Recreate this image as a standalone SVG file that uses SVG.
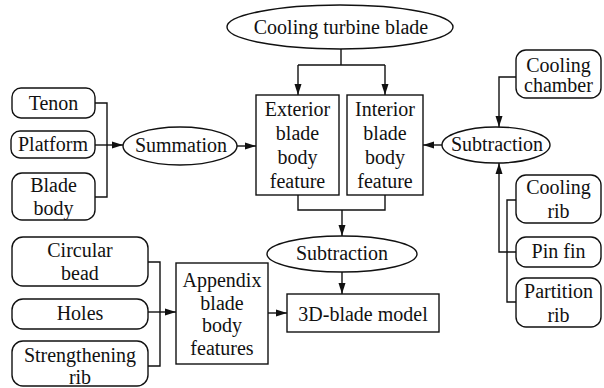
<svg xmlns="http://www.w3.org/2000/svg" width="604" height="388" viewBox="0 0 604 388">
<style>
.s{fill:#fff;stroke:#111;stroke-width:1.4}
.c{fill:none;stroke:#111;stroke-width:1.4}
.t text{font-size:20px;fill:#111;text-anchor:middle}
</style>
<defs>
<marker id="a" markerUnits="userSpaceOnUse" markerWidth="11" markerHeight="8" refX="11" refY="4" orient="auto">
<path d="M0,0.5 L11,4 L0,7.5 z" fill="#111"/>
</marker>
</defs>
<rect width="604" height="388" fill="#fff"/>
<g id="connectors">
<path class="c" d="M341,49 V65 M298,65 H385"/>
<path class="c" d="M298,65 V95" marker-end="url(#a)"/>
<path class="c" d="M385,65 V95" marker-end="url(#a)"/>
<path class="c" d="M95,103 H107 V197 H95"/>
<path class="c" d="M95,145 H123" marker-end="url(#a)"/>
<path class="c" d="M237,146 H256" marker-end="url(#a)"/>
<path class="c" d="M516,77 H499 V127" marker-end="url(#a)"/>
<path class="c" d="M516,252 H499 V163" marker-end="url(#a)"/>
<path class="c" d="M516,200 H507 V302 H516"/>
<path class="c" d="M442,145 H423" marker-end="url(#a)"/>
<path class="c" d="M298,195 V210 H385 V195"/>
<path class="c" d="M342,210 V236" marker-end="url(#a)"/>
<path class="c" d="M342,272 V294" marker-end="url(#a)"/>
<path class="c" d="M148,262 H160 V366 H148"/>
<path class="c" d="M148,312 H176" marker-end="url(#a)"/>
<path class="c" d="M268,313 H287" marker-end="url(#a)"/>
</g>
<g class="t" font-family="Liberation Serif, Times New Roman, Times, serif">
<g id="cooling-turbine-blade">
<ellipse class="s" cx="340" cy="27" rx="113" ry="22"/>
<text x="341" y="34">Cooling turbine blade</text>
</g>
<g id="exterior">
<rect class="s" x="256" y="95" width="83" height="100"/>
<text x="297.5" y="116">Exterior</text>
<text x="297.5" y="140">blade</text>
<text x="297.5" y="164">body</text>
<text x="297.5" y="188">feature</text>
</g>
<g id="interior">
<rect class="s" x="347" y="95" width="76" height="100"/>
<text x="385" y="116">Interior</text>
<text x="385" y="140">blade</text>
<text x="385" y="164">body</text>
<text x="385" y="188">feature</text>
</g>
<g id="tenon">
<rect class="s" x="12" y="88" width="83" height="30" rx="9"/>
<text x="53.5" y="110">Tenon</text>
</g>
<g id="platform">
<rect class="s" x="11" y="131" width="84" height="27" rx="9"/>
<text x="53" y="151">Platform</text>
</g>
<g id="blade-body">
<rect class="s" x="12" y="173" width="83" height="47" rx="10"/>
<text x="53.5" y="192">Blade</text>
<text x="53.5" y="215">body</text>
</g>
<g id="summation">
<ellipse class="s" cx="180" cy="146" rx="57" ry="19"/>
<text x="181" y="152">Summation</text>
</g>
<g id="subtraction-right">
<ellipse class="s" cx="496" cy="145" rx="54" ry="18"/>
<text x="497" y="151">Subtraction</text>
</g>
<g id="cooling-chamber">
<rect class="s" x="516" y="50" width="85" height="48" rx="10"/>
<text x="558.5" y="72">Cooling</text>
<text x="558.5" y="92">chamber</text>
</g>
<g id="cooling-rib">
<rect class="s" x="516" y="175" width="85" height="48" rx="10"/>
<text x="558.5" y="194">Cooling</text>
<text x="558.5" y="218">rib</text>
</g>
<g id="pin-fin">
<rect class="s" x="516" y="237" width="85" height="30" rx="10"/>
<text x="558.5" y="258">Pin fin</text>
</g>
<g id="partition-rib">
<rect class="s" x="516" y="278" width="85" height="49" rx="10"/>
<text x="558.5" y="298">Partition</text>
<text x="558.5" y="322">rib</text>
</g>
<g id="subtraction-lower">
<ellipse class="s" cx="342" cy="254" rx="75" ry="18"/>
<text x="342" y="260">Subtraction</text>
</g>
<g id="circular-bead">
<rect class="s" x="12" y="237" width="136" height="49" rx="11"/>
<text x="80" y="257">Circular</text>
<text x="80" y="280">bead</text>
</g>
<g id="holes">
<rect class="s" x="12" y="299" width="136" height="30" rx="11"/>
<text x="80" y="320">Holes</text>
</g>
<g id="strengthening-rib">
<rect class="s" x="12" y="341" width="136" height="45" rx="11"/>
<text x="80" y="362">Strengthening</text>
<text x="80" y="384">rib</text>
</g>
<g id="appendix">
<rect class="s" x="176" y="263" width="92" height="101"/>
<text x="222" y="287">Appendix</text>
<text x="222" y="310">blade</text>
<text x="222" y="332">body</text>
<text x="222" y="355">features</text>
</g>
<g id="blade-model">
<rect class="s" x="287" y="294" width="152" height="38"/>
<text x="363" y="321">3D-blade model</text>
</g>
</g>
</svg>
